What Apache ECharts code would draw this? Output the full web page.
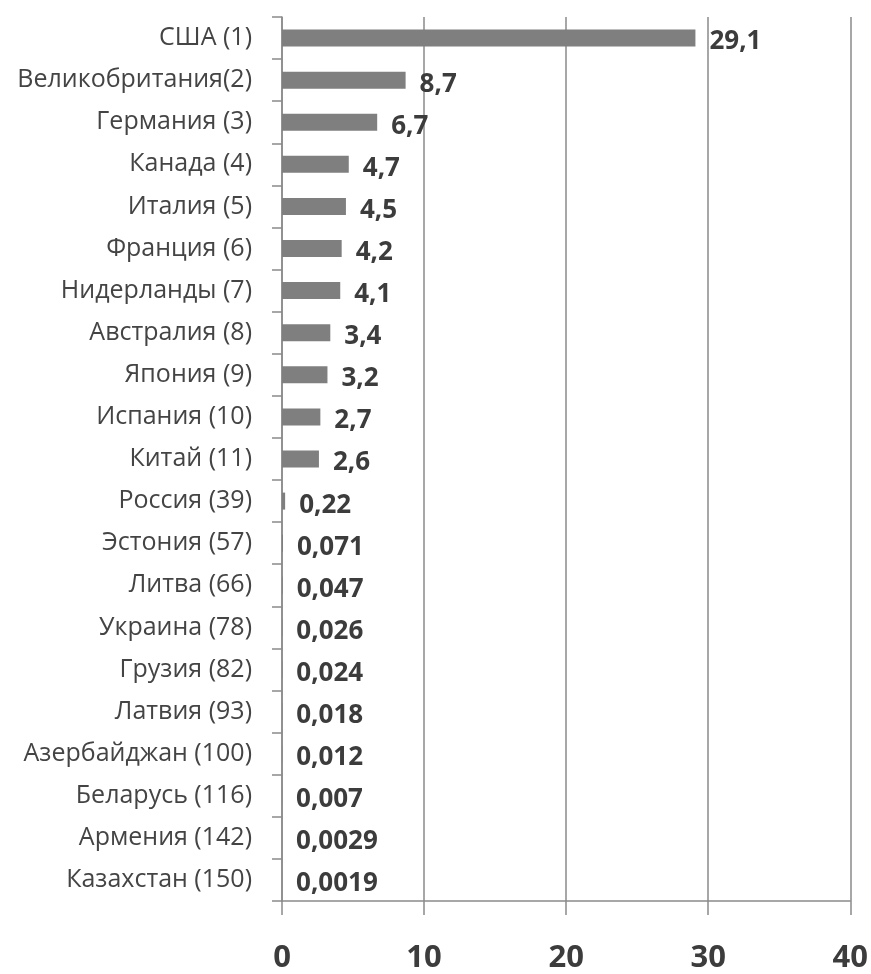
<!DOCTYPE html>
<html><head><meta charset="utf-8">
<script src="https://cdn.jsdelivr.net/npm/echarts@6/dist/echarts.min.js"></script>
<style>html,body{margin:0;padding:0;background:#fff}#c{width:871px;height:974px}</style>
</head><body><div id="c"></div>
<script>
const categories = ['США (1)','Великобритания(2)','Германия (3)','Канада (4)','Италия (5)','Франция (6)','Нидерланды (7)','Австралия (8)','Япония (9)','Испания (10)','Китай (11)','Россия (39)','Эстония (57)','Литва (66)','Украина (78)','Грузия (82)','Латвия (93)','Азербайджан (100)','Беларусь (116)','Армения (142)','Казахстан (150)'];
const values = [29.1,8.7,6.7,4.7,4.5,4.2,4.1,3.4,3.2,2.7,2.6,0.22,0.071,0.047,0.026,0.024,0.018,0.012,0.007,0.0029,0.0019];
const valueLabels = ['29,1','8,7','6,7','4,7','4,5','4,2','4,1','3,4','3,2','2,7','2,6','0,22','0,071','0,047','0,026','0,024','0,018','0,012','0,007','0,0029','0,0019'];
const xTicks = [0,10,20,30,40];

const chart = echarts.init(document.getElementById('c'), null, {renderer:'canvas'});
chart.setOption({
  animation:false,
  backgroundColor:'#fff',
  grid:{left:282,right:19,top:17,bottom:70,containLabel:false},
  xAxis:{type:'value',min:xTicks[0],max:xTicks[xTicks.length-1],interval:10,
    axisLine:{show:true,lineStyle:{color:'#8a8a8a',width:1.5}},
    axisTick:{show:true,length:14,lineStyle:{color:'#8a8a8a',width:1.5}},
    splitLine:{show:true,lineStyle:{color:'#8a8a8a',width:1.5}},
    axisLabel:{margin:42,fontFamily:'Open Sans',fontWeight:'bold',fontSize:31,color:'#3c3c3c'}},
  yAxis:{type:'category',inverse:true,data:categories,
    axisLine:{show:true,lineStyle:{color:'#8a8a8a',width:1.5}},
    axisTick:{show:true,length:10,lineStyle:{color:'#8a8a8a',width:1.5}},
    axisLabel:{margin:30,fontFamily:'Open Sans',fontSize:25,color:'#444'}},
  series:[{type:'bar',data:values,barWidth:17,itemStyle:{color:'#7f7f7f'},
    label:{show:true,position:'right',distance:14,offset:[0,4],fontFamily:'Open Sans',fontWeight:'bold',fontSize:26,color:'#3c3c3c',
      formatter:p=>valueLabels[p.dataIndex]}}]
});
</script></body></html>
